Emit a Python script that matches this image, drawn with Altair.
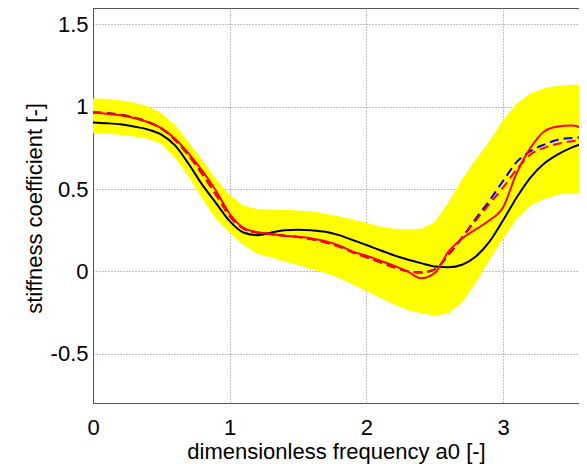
import altair as alt
import pandas as pd

# dimensionless frequency a0
xs = [0.0, 0.1, 0.2, 0.3, 0.4, 0.5, 0.6, 0.7, 0.8, 0.9,
      1.0, 1.1, 1.2, 1.3, 1.4, 1.5, 1.6, 1.7, 1.8, 1.9,
      2.0, 2.1, 2.2, 2.3, 2.4, 2.5, 2.6, 2.7, 2.8, 2.9,
      3.0, 3.1, 3.2, 3.3, 3.4, 3.5, 3.6]

band_hi = [1.05, 1.048, 1.04, 1.025, 1.005, 0.96, 0.89, 0.785, 0.675, 0.56,
           0.465, 0.40, 0.378, 0.375, 0.372, 0.37, 0.365, 0.35, 0.335, 0.315,
           0.295, 0.272, 0.258, 0.255, 0.258, 0.30, 0.42, 0.56, 0.68, 0.79,
           0.92, 1.02, 1.08, 1.112, 1.128, 1.134, 1.135]

band_lo = [0.84, 0.836, 0.83, 0.82, 0.805, 0.775, 0.69, 0.575, 0.44, 0.32,
           0.235, 0.16, 0.108, 0.085, 0.06, 0.038, 0.012, -0.01, -0.04, -0.08,
           -0.12, -0.16, -0.2, -0.235, -0.255, -0.27, -0.255, -0.19, -0.07, 0.07,
           0.2, 0.32, 0.4, 0.44, 0.465, 0.475, 0.48]

black = [0.905, 0.9, 0.893, 0.88, 0.862, 0.83, 0.765, 0.652, 0.525, 0.415,
         0.305, 0.236, 0.22, 0.235, 0.25, 0.253, 0.249, 0.24, 0.22, 0.19,
         0.16, 0.128, 0.098, 0.072, 0.05, 0.03, 0.025, 0.04, 0.09, 0.18,
         0.31, 0.45, 0.57, 0.655, 0.71, 0.752, 0.78]

red_solid = [0.965, 0.958, 0.948, 0.932, 0.907, 0.87, 0.805, 0.715, 0.61, 0.49,
             0.35, 0.265, 0.238, 0.228, 0.216, 0.21, 0.20, 0.183, 0.158, 0.12,
             0.095, 0.065, 0.035, 0.0, -0.042, -0.01, 0.12, 0.2, 0.255, 0.31,
             0.39, 0.60, 0.75, 0.85, 0.88, 0.886, 0.865]

red_dashed = [0.966, 0.961, 0.951, 0.935, 0.908, 0.868, 0.798, 0.703, 0.59, 0.465,
              0.335, 0.26, 0.235, 0.226, 0.216, 0.208, 0.195, 0.175, 0.15, 0.115,
              0.085, 0.055, 0.025, 0.0, -0.008, 0.012, 0.10, 0.205, 0.31, 0.41,
              0.51, 0.62, 0.71, 0.75, 0.775, 0.79, 0.80]

blue_dashed = [0.967, 0.962, 0.952, 0.936, 0.909, 0.869, 0.799, 0.704, 0.591, 0.466,
               0.336, 0.261, 0.236, 0.227, 0.217, 0.209, 0.196, 0.176, 0.151, 0.116,
               0.086, 0.056, 0.026, 0.001, -0.006, 0.012, 0.10, 0.205, 0.32, 0.43,
               0.55, 0.665, 0.73, 0.77, 0.80, 0.81, 0.815]

df = pd.DataFrame({
    "x": xs, "hi": band_hi, "lo": band_lo, "black": black,
    "red_solid": red_solid, "red_dashed": red_dashed, "blue_dashed": blue_dashed,
})

FONT = "Liberation Sans"

xscale = alt.Scale(domain=[0, 3.555], nice=False, zero=False)
yscale = alt.Scale(domain=[-0.8, 1.6], nice=False, zero=False)

xaxis = alt.Axis(
    values=[0, 1, 2, 3], format="d", title="dimensionless frequency a0 [-]",
    ticks=False, labelPadding=14, labelFlush=False, labelOverlap=False,
    titleY=55, titleBaseline="alphabetic",
)
yaxis = alt.Axis(
    values=[-0.5, 0, 0.5, 1, 1.5], labelExpr="toString(datum.value)",
    title="stiffness coefficient [-]", ticks=False, labelPadding=5,
    labelFlush=False, labelOverlap=False,
    titleX=-52, titleY=200, titleBaseline="alphabetic", titleAngle=-90,
)

X = alt.X("x:Q", scale=xscale, axis=xaxis)

base = alt.Chart(df)

band = base.mark_area(color="#ffff00", opacity=1, clip=True).encode(
    x=X, y=alt.Y("lo:Q", scale=yscale, axis=yaxis), y2="hi:Q"
)

def line(field, color, dash=None):
    kw = dict(color=color, strokeWidth=2, interpolate="monotone", clip=True)
    if dash:
        kw["strokeDash"] = dash
    return base.mark_line(**kw).encode(
        x=X, y=alt.Y(f"{field}:Q", scale=yscale, axis=yaxis)
    )

chart = alt.layer(
    band,
    line("black", "#000000"),
    line("blue_dashed", "#0000ff", [9, 5]),
    line("red_dashed", "#ff0000", [9, 5]),
    line("red_solid", "#ff0000"),
).properties(
    width=486, height=395,
    autosize=alt.AutoSizeParams(type="none"),
    padding={"left": 85, "top": 0, "right": 0, "bottom": 61},
).configure_view(
    stroke="#555555", strokeWidth=1
).configure_axis(
    grid=True, gridColor="#808080", gridDash=[1, 2], gridWidth=1,
    domainColor="#555555", domainWidth=1,
    labelFont=FONT, labelFontSize=22, labelColor="#000000",
    titleFont=FONT, titleFontSize=22, titleFontWeight="normal", titleColor="#000000",
)

chart.save("out.html", embed_options={"renderer": "svg", "actions": False})
